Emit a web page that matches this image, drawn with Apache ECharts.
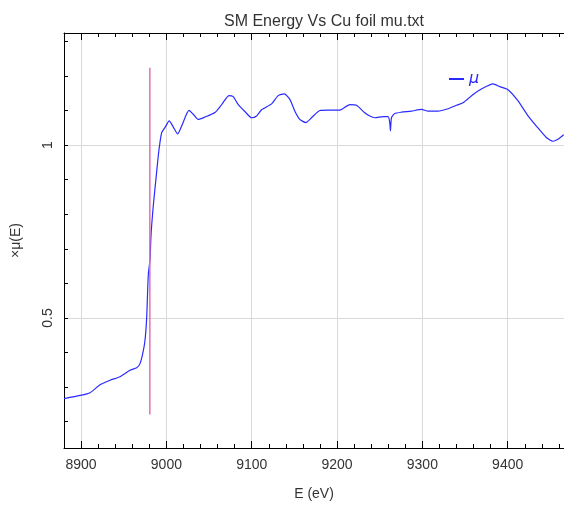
<!DOCTYPE html>
<html>
<head>
<meta charset="utf-8">
<script src="https://cdn.jsdelivr.net/npm/echarts@6/dist/echarts.min.js"></script>
<style>
html,body{margin:0;padding:0;background:#fff;}
#chart{width:564px;height:506px;}
</style>
</head>
<body>
<div id="chart"></div>
<script>
// ---- data ----
var energy = [8880.1, 8898.8, 8910.5, 8922.2, 8934.0, 8945.7, 8957.4, 8965.2, 8969.1, 8972.2,
  8974.9, 8976.9, 8978.8, 8980.8, 8982.0, 8984.7, 8987.8, 8990.5, 8992.5, 8994.5,
  8998.4, 9003.4, 9008.1, 9013.2, 9017.9, 9026.5, 9031.5, 9037.4, 9045.2, 9056.9,
  9064.8, 9073.3, 9078.3, 9084.2, 9092.0, 9099.9, 9105.7, 9111.6, 9123.3, 9131.0,
  9138.1, 9144.7, 9150.6, 9156.4, 9163.5, 9170.1, 9179.9, 9189.6, 9203.3, 9215.0,
  9222.8, 9231.7, 9238.4, 9244.3, 9254.0, 9259.8, 9261.8, 9262.6, 9263.8, 9267.7,
  9275.5, 9287.2, 9299.0, 9306.7, 9318.4, 9330.1, 9339.9, 9347.6, 9359.4, 9369.2,
  9382.8, 9390.6, 9400.4, 9411.7, 9423.4, 9433.6, 9445.3, 9453.0, 9458.9, 9465.6];
var mu = [0.267, 0.276, 0.284, 0.307, 0.320, 0.330, 0.349, 0.356, 0.368, 0.396,
  0.435, 0.501, 0.625, 0.668, 0.740, 0.826, 0.903, 0.969, 1.008, 1.036,
  1.051, 1.070, 1.052, 1.032, 1.055, 1.100, 1.089, 1.074, 1.081, 1.094,
  1.117, 1.143, 1.140, 1.117, 1.097, 1.079, 1.084, 1.102, 1.119, 1.143,
  1.148, 1.132, 1.098, 1.074, 1.065, 1.079, 1.100, 1.101, 1.101, 1.117,
  1.115, 1.095, 1.084, 1.079, 1.082, 1.082, 1.065, 1.041, 1.079, 1.091,
  1.095, 1.098, 1.103, 1.098, 1.098, 1.105, 1.115, 1.122, 1.146, 1.162,
  1.177, 1.169, 1.160, 1.129, 1.086, 1.055, 1.022, 1.011, 1.017, 1.030];
var e0LineX = [8980.6, 8980.6];
var e0LineY = [0.221, 1.2235];

var xMajorTicks = [8900, 9000, 9100, 9200, 9300, 9400];
var xMinorTicks = [8920, 8940, 8960, 8980, 9020, 9040, 9060, 9080, 9120, 9140, 9160, 9180,
  9220, 9240, 9260, 9280, 9320, 9340, 9360, 9380, 9420, 9440, 9460];
var yMajorTicks = [0.5, 1];
var yMinorTicks = [0.2, 0.3, 0.4, 0.6, 0.7, 0.8, 0.9, 1.1, 1.2, 1.3];
var xRange = [8880, 9466];
var yRange = [0.124, 1.324];

var titleText = 'SM Energy Vs Cu foil mu.txt';
var xName = 'E (eV)';
var yName = '\u00d7\u03bc(E)';
var seriesName = '\u03bc';

// ---- chart ----
var FONT = 'Liberation Sans';
var TXT = '#333';
function zip(a, b) { return a.map(function (v, i) { return [v, b[i]]; }); }
function plain(v) { return String(v); }

function xAx(pos, ticks, len, withLine, withLabel, withSplit) {
  return {
    type: 'value', position: pos, min: xRange[0], max: xRange[1],
    axisLine: { show: withLine, onZero: false, lineStyle: { color: '#000', width: 1 } },
    axisTick: { show: true, inside: true, length: len, customValues: ticks, lineStyle: { color: '#000', width: 1 } },
    axisLabel: withLabel ? { show: true, customValues: ticks, formatter: plain, color: TXT, fontFamily: FONT, fontSize: 14, margin: 10 } : { show: false },
    splitLine: { show: withSplit, lineStyle: { color: '#d9d9d9', width: 1 } }
  };
}
function yAx(ticks, len, withLine, withLabel, withSplit) {
  return {
    type: 'value', position: 'left', min: yRange[0], max: yRange[1],
    axisLine: { show: withLine, onZero: false, lineStyle: { color: '#000', width: 1 } },
    axisTick: { show: true, inside: true, length: len, customValues: ticks, lineStyle: { color: '#000', width: 1 } },
    axisLabel: withLabel ? { show: true, customValues: ticks, formatter: plain, rotate: 90, color: TXT, fontFamily: FONT, fontSize: 14, margin: 9 } : { show: false },
    splitLine: { show: withSplit, lineStyle: { color: '#d9d9d9', width: 1 } }
  };
}

var xMain = xAx('bottom', xMajorTicks, 7, true, true, true);
xMain.name = xName;
xMain.nameLocation = 'middle';
xMain.nameGap = 39;
xMain.nameTextStyle = { color: TXT, fontFamily: FONT, fontSize: 14 };

var yMain = yAx(yMajorTicks, 4, true, true, true);
yMain.name = yName;
yMain.nameLocation = 'middle';
yMain.nameGap = 41;
yMain.nameRotate = 90;
yMain.nameTextStyle = { color: TXT, fontFamily: FONT, fontSize: 14 };

var chart = echarts.init(document.getElementById('chart'), null, { renderer: 'canvas' });
chart.setOption({
  animation: false,
  backgroundColor: '#fff',
  title: {
    text: titleText, left: 319, top: 9, textAlign: 'center',
    textStyle: { color: TXT, fontFamily: FONT, fontSize: 16, fontWeight: 'normal' }
  },
  legend: {
    left: 444, top: 66, itemWidth: 15, itemHeight: 2, itemGap: 8,
    icon: 'rect',
    data: [seriesName],
    textStyle: { color: '#2a2aff', fontFamily: 'DejaVu Sans', fontStyle: 'italic', fontSize: 16, padding: [7, 0, 0, 0] }
  },
  grid: { left: 64, right: 0, top: 33, bottom: 54, containLabel: false },
  xAxis: [
    xMain,
    xAx('bottom', xMinorTicks, 4, false, false, false),
    xAx('top', xMajorTicks, 7, true, false, false),
    xAx('top', xMinorTicks, 4, false, false, false)
  ],
  yAxis: [
    yMain,
    yAx(yMinorTicks, 4, false, false, false)
  ],
  series: [
    {
      name: seriesName, type: 'line', xAxisIndex: 0, yAxisIndex: 0,
      data: zip(energy, mu), showSymbol: false, smooth: 0.2,
      lineStyle: { color: '#2a2aff', width: 1.2 }, itemStyle: { color: '#2a2aff' }
    },
    {
      name: 'E0', type: 'line', xAxisIndex: 0, yAxisIndex: 0,
      data: zip(e0LineX, e0LineY), showSymbol: false,
      lineStyle: { color: '#e070b4', width: 1.5 }, itemStyle: { color: '#e070b4' }
    }
  ]
});
</script>
</body>
</html>
